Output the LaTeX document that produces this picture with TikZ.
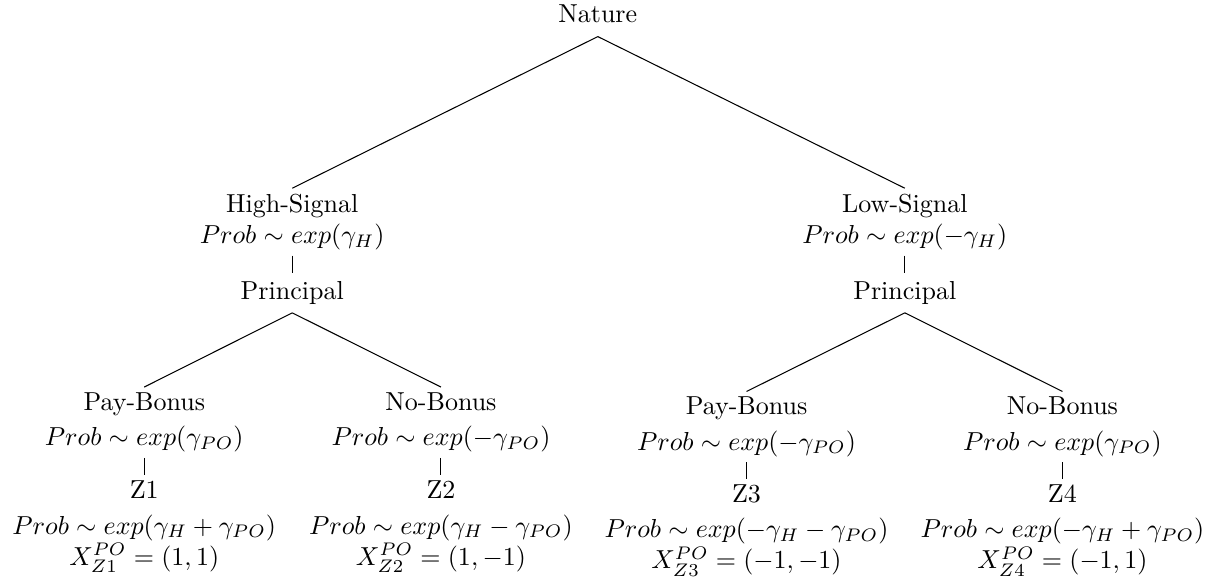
\documentclass[tikz,border=0pt]{standalone}
\usepackage{amsmath}
\usepackage{tikz}
\usetikzlibrary{positioning}
\begin{document}
\begin{tikzpicture}[line width=.4pt]
\useasboundingbox (0,0) rectangle (16.49,-7.89);
\begin{scope}[inner sep=2pt]
\tikzstyle{every node}=[align=center] %%
\node[inner ysep=5pt] (nat) at (8.08,-0.19) {Nature}; %%
\node (hi) at (3.95,-3.00) {High-Signal\\$Prob \sim exp(\gamma_H)$}; %%
\node (lo) at (12.23,-3.00) {Low-Signal\\$Prob \sim exp(-\gamma_H)$}; %%
\node[inner ysep=3pt] (pl) at (3.95,-3.96) {Principal}; %%
\node[inner ysep=3pt] (pr) at (12.23,-3.96) {Principal}; %%
\node (payl) at (1.95,-5.71) {Pay-Bonus\\[1.5pt]$Prob \sim exp(\gamma_{PO})$}; %%
\node (nol) at (5.96,-5.71) {No-Bonus\\[1.5pt]$Prob \sim exp(-\gamma_{PO})$}; %%
\node (payr) at (10.09,-5.77) {Pay-Bonus\\[1.5pt]$Prob \sim exp(-\gamma_{PO})$}; %%
\node (nor) at (14.36,-5.77) {No-Bonus\\[1.5pt]$Prob \sim exp(\gamma_{PO})$}; %%
\node (z1) at (1.95,-7.12) {Z1\\[1.5pt]$Prob \sim exp(\gamma_H+\gamma_{PO})$\\$X^{PO}_{Z1}=(1,1)$}; %%
\node (z2) at (5.96,-7.12) {Z2\\[1.5pt]$Prob \sim exp(\gamma_H-\gamma_{PO})$\\$X^{PO}_{Z2}=(1,-1)$}; %%
\node (z3) at (10.09,-7.17) {Z3\\[1.5pt]$Prob \sim exp(-\gamma_H-\gamma_{PO})$\\$X^{PO}_{Z3}=(-1,-1)$}; %%
\node (z4) at (14.36,-7.17) {Z4\\[1.5pt]$Prob \sim exp(-\gamma_H+\gamma_{PO})$\\$X^{PO}_{Z4}=(-1,1)$}; %%
\end{scope}
\draw (nat.south) -- (hi.north); %%
\draw (nat.south) -- (lo.north); %%
\draw (hi.south) -- (pl.north); %%
\draw (lo.south) -- (pr.north); %%
\draw (pl.south) -- (payl.north); %%
\draw (pl.south) -- (nol.north); %%
\draw (pr.south) -- (payr.north); %%
\draw (pr.south) -- (nor.north); %%
\draw (payl.south) -- (z1.north); %%
\draw (nol.south) -- (z2.north); %%
\draw (payr.south) -- (z3.north); %%
\draw (nor.south) -- (z4.north); %%
\end{tikzpicture}
\end{document}
